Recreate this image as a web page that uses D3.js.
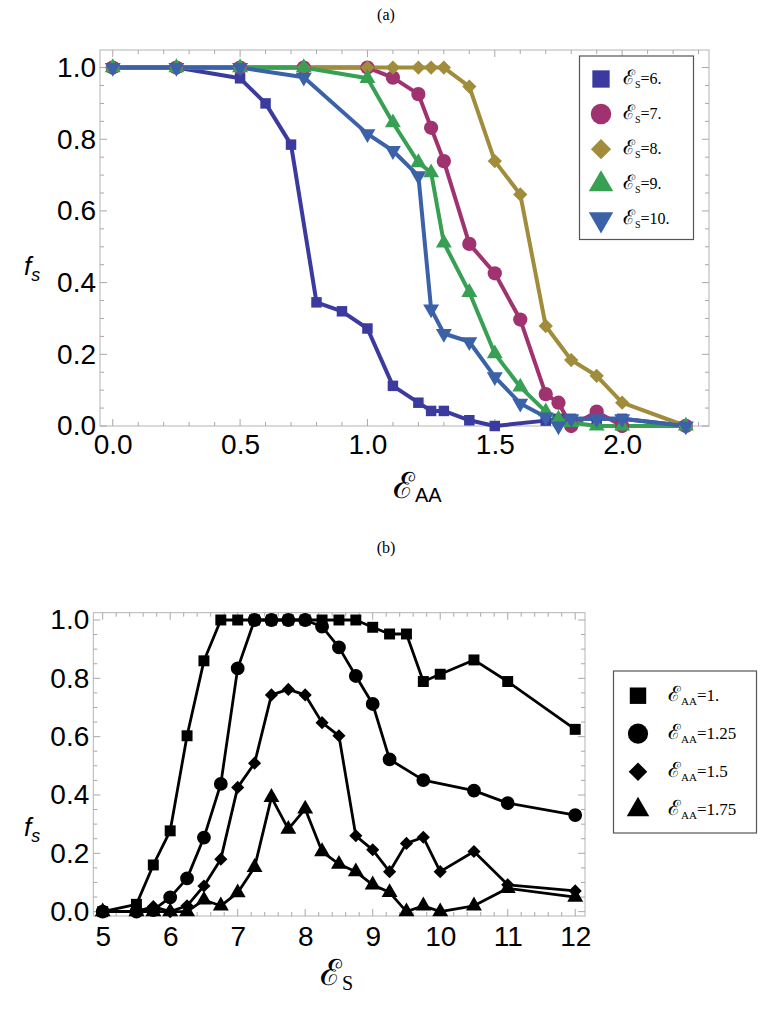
<!DOCTYPE html>
<html><head><meta charset="utf-8">
<script src="https://cdn.jsdelivr.net/npm/d3@7"></script>
<style>
body{margin:0;background:#fff;}
svg{display:block;}
</style></head>
<body>
<svg id="chart" width="773" height="1014"></svg>
<script>
// ---------- Panel (a) data ----------
const aLabels = ["6.", "7.", "8.", "9.", "10."];
const aX6  = [0,0.25,0.5,0.6,0.7,0.8,0.9,1.0,1.1,1.2,1.25,1.3,1.4,1.5,1.7,1.75,1.8,1.9,2.0,2.25];
const aY6  = [1,1,0.97,0.90,0.785,0.345,0.32,0.272,0.112,0.065,0.042,0.042,0.016,0,0.015,0.02,0.02,0.02,0.02,0];
const aX7  = [0,0.25,0.5,0.75,1.0,1.1,1.2,1.25,1.3,1.4,1.5,1.6,1.7,1.75,1.8,1.9,2.0,2.25];
const aY7  = [1,1,1,1,1,0.972,0.926,0.832,0.739,0.508,0.426,0.297,0.089,0.065,0,0.04,0,0];
const aX8  = [0,0.25,0.5,0.75,1.0,1.1,1.2,1.25,1.3,1.4,1.5,1.6,1.7,1.8,1.9,2.0,2.25];
const aY8  = [1,1,1,1,1,1,1,1,1,0.947,0.739,0.646,0.279,0.184,0.14,0.065,0];
const aX9  = [0,0.25,0.5,0.75,1.0,1.1,1.2,1.25,1.3,1.4,1.5,1.6,1.7,1.75,1.8,1.9,2.0,2.25];
const aY9  = [1,1,1,1,0.97,0.846,0.735,0.707,0.511,0.373,0.202,0.109,0.04,0.02,0.01,0,0,0];
const aX10 = [0,0.25,0.5,0.75,1.0,1.1,1.2,1.25,1.3,1.4,1.5,1.6,1.7,1.75,1.8,1.9,2.0,2.25];
const aY10 = [1,1,1,0.973,0.815,0.768,0.698,0.326,0.258,0.235,0.137,0.063,0.025,0,0.02,0.02,0.02,0];
const aXTicks = [0,0.5,1.0,1.5,2.0];
const aYTicks = [0,0.2,0.4,0.6,0.8,1.0];

// ---------- Panel (b) data ----------
const bLabels = ["1.", "1.25", "1.5", "1.75"];
const bX1   = [5,5.5,5.75,6,6.25,6.5,6.75,7,7.25,7.5,7.75,8,8.25,8.5,8.75,9,9.25,9.5,9.75,10,10.5,11,12];
const bY1   = [0,0.025,0.16,0.277,0.603,0.86,1,1,1,1,1,1,1,1,1,0.975,0.952,0.952,0.789,0.814,0.863,0.789,0.625];
const bX125 = [5,5.5,5.75,6,6.25,6.5,6.75,7,7.25,7.5,7.75,8,8.25,8.5,8.75,9,9.25,9.75,10.5,11,12];
const bY125 = [0,0,0.005,0.049,0.114,0.254,0.438,0.834,1,1,1,1,0.977,0.906,0.808,0.712,0.522,0.451,0.415,0.372,0.331];
const bX15  = [5,5.5,5.75,6,6.25,6.5,6.75,7,7.25,7.5,7.75,8,8.25,8.5,8.75,9,9.25,9.5,9.75,10,10.5,11,12];
const bY15  = [0,0,0.017,0,0.02,0.088,0.18,0.426,0.509,0.743,0.762,0.743,0.648,0.603,0.26,0.212,0.137,0.234,0.255,0.137,0.206,0.092,0.071];
const bX175 = [5,5.5,5.75,6,6.25,6.5,6.75,7,7.25,7.5,7.75,8,8.25,8.5,8.75,9,9.25,9.5,9.75,10,10.5,11,12];
const bY175 = [0,0,0,0,0,0.04,0.02,0.065,0.152,0.392,0.283,0.352,0.206,0.163,0.137,0.092,0.066,0,0.02,0,0.02,0.08,0.05];
const bXTicks = [5,6,7,8,9,10,11,12];
const bYTicks = [0,0.2,0.4,0.6,0.8,1.0];

// ---------- styling ----------
const aColors = ["#3b3b9f","#a0336f","#a08c3a","#37a052","#3b62a8"];
const svg = d3.select("#chart");
const SANS = "'Liberation Sans', Arial, sans-serif";
const SERIF = "'Liberation Serif', 'DejaVu Serif', serif";

function sym(kind, size){
  if(kind==="square") return d3.symbol(d3.symbolSquare, size)();
  if(kind==="circle") return d3.symbol(d3.symbolCircle, size)();
  if(kind==="diamond") return d3.symbol(d3.symbolDiamond2, size)();
  return d3.symbol(d3.symbolTriangle, size)();
}
function rot(kind){ return kind==="down" ? " rotate(180)" : ""; }

function frame(g, x, y, xTicks, xMinor, yMinor){
  const [x0,x1] = x.range(), [y0,y1] = y.range();
  g.append("rect").attr("x",x0).attr("y",y1).attr("width",x1-x0).attr("height",y0-y1)
    .attr("fill","none").attr("stroke","#b4b4b4").attr("stroke-width",1);
  const tk = g.append("g").attr("stroke","#a8a8a8").attr("stroke-width",1);
  xMinor.forEach(v=>{
    const L = xTicks.some(t=>Math.abs(t-v)<1e-6) ? 7 : 4;
    tk.append("line").attr("x1",x(v)).attr("x2",x(v)).attr("y1",y0).attr("y2",y0-L);
    tk.append("line").attr("x1",x(v)).attr("x2",x(v)).attr("y1",y1).attr("y2",y1+L);
  });
  yMinor.forEach(v=>{
    const L = (Math.abs(v*5-Math.round(v*5))<1e-6) ? 7 : 4;
    tk.append("line").attr("y1",y(v)).attr("y2",y(v)).attr("x1",x0).attr("x2",x0+L);
    tk.append("line").attr("y1",y(v)).attr("y2",y(v)).attr("x1",x1).attr("x2",x1-L);
  });
}

function panel(opts){
  const g = svg.append("g");
  const x = d3.scaleLinear().domain(opts.xDom).range(opts.xRange);
  const y = d3.scaleLinear().domain(opts.yDom).range(opts.yRange);
  frame(g, x, y, opts.xTicks, opts.xMinor, opts.yMinor);
  const xAxis = d3.axisBottom(x).tickValues(opts.xTicks).tickFormat(opts.fmtX).tickSize(0).tickPadding(opts.xPad);
  const gx = g.append("g").attr("transform",`translate(0,${opts.yRange[0]})`).call(xAxis);
  gx.select(".domain").remove();
  gx.selectAll("text").attr("font-family",SANS).attr("font-size",28).attr("fill","#000");
  const yAxis = d3.axisLeft(y).tickValues(opts.yTicks).tickFormat(d3.format(".1f")).tickSize(0).tickPadding(opts.yPad);
  const gy = g.append("g").attr("transform",`translate(${opts.xRange[0]},0)`).call(yAxis);
  gy.select(".domain").remove();
  gy.selectAll("text").attr("font-family",SANS).attr("font-size",28).attr("fill","#000");

  const line = d3.line().x(d=>x(d[0])).y(d=>y(d[1]));
  opts.series.forEach(s=>{
    const pts = s.xs.map((v,i)=>[v,s.ys[i]]);
    g.append("path").attr("d",line(pts)).attr("fill","none")
      .attr("stroke",s.color).attr("stroke-width",opts.lw).attr("stroke-linejoin","round");
  });
  opts.series.forEach(s=>{
    const pts = s.xs.map((v,i)=>[v,s.ys[i]]);
    g.append("g").selectAll("path").data(pts).join("path")
      .attr("d",sym(s.kind,s.size))
      .attr("transform",d=>`translate(${x(d[0])},${y(d[1])})${rot(s.kind)}`)
      .attr("fill",s.color);
  });
}

// ---------- Panel (a) ----------
const kinds = ["square","circle","diamond","up","down"];
const aSizes = [110,160,130,110,110];
const aXs = [aX6,aX7,aX8,aX9,aX10], aYs = [aY6,aY7,aY8,aY9,aY10];
panel({
  xDom:[-0.05,2.341], xRange:[100,709], yDom:[0,1.049], yRange:[426,50],
  xTicks:aXTicks, yTicks:aYTicks,
  xMinor:d3.range(0,2.35,0.1).map(v=>+v.toFixed(2)),
  yMinor:d3.range(0,1.04,0.05).map(v=>+v.toFixed(2)),
  fmtX:d3.format(".1f"), xPad:8, yPad:4, lw:4,
  series:aXs.map((xs,i)=>({xs,ys:aYs[i],color:aColors[i],kind:kinds[i],size:aSizes[i]}))
});

// ---------- Panel (b) ----------
const bKinds = ["square","circle","diamond","up"];
const bSizes = [120,150,110,110];
const bXs = [bX1,bX125,bX15,bX175], bYs = [bY1,bY125,bY15,bY175];
panel({
  xDom:[4.861,12.145], xRange:[93.3,585], yDom:[-0.015,1.025], yRange:[916,612.7],
  xTicks:bXTicks, yTicks:bYTicks,
  xMinor:d3.range(5,12.01,0.2).map(v=>+v.toFixed(2)),
  yMinor:d3.range(0,1.02,0.05).map(v=>+v.toFixed(2)),
  fmtX:d3.format("d"), xPad:10, yPad:4, lw:2.8,
  series:bXs.map((xs,i)=>({xs,ys:bYs[i],color:"#000",kind:bKinds[i],size:bSizes[i]}))
});

// ---------- Legends ----------
svg.append("rect").attr("x",579.5).attr("y",56).attr("width",114).attr("height",183.5)
  .attr("fill","#fff").attr("stroke","#555").attr("stroke-width",1.2);
const lgA = svg.append("g");
aLabels.forEach((lab,i)=>{
  const cy = 79 + i*35.1;
  lgA.append("path").attr("d",sym(kinds[i],[300,330,260,260,260][i]))
    .attr("transform",`translate(601,${cy})${rot(kinds[i])}`).attr("fill",aColors[i]);
  const t = lgA.append("text").attr("x",623).attr("y",cy+5).attr("font-family",SERIF).attr("font-size",16);
  t.append("tspan").attr("font-size",20).text("ℰ");
  t.append("tspan").attr("font-size",10).attr("dy",4).text("S");
  t.append("tspan").attr("dy",-4).text("=" + lab);
});
svg.append("rect").attr("x",613.5).attr("y",671).attr("width",143).attr("height",162)
  .attr("fill","#fff").attr("stroke","#555").attr("stroke-width",1.2);
const lgB = svg.append("g");
bLabels.forEach((lab,i)=>{
  const cy = 695.7 + i*38;
  lgB.append("path").attr("d",sym(bKinds[i],[270,320,220,220][i]))
    .attr("transform",`translate(638,${cy})${rot(bKinds[i])}`).attr("fill","#000");
  const t = lgB.append("text").attr("x",668).attr("y",cy+5).attr("font-family",SERIF).attr("font-size",17);
  t.append("tspan").attr("font-size",21).text("ℰ");
  t.append("tspan").attr("font-size",11).attr("dy",4).text("AA");
  t.append("tspan").attr("dy",-4).text("=" + lab);
});

// ---------- Titles and axis labels ----------
svg.append("text").attr("x",386).attr("y",20).attr("text-anchor","middle")
  .attr("font-family",SERIF).attr("font-size",16).text("(a)");
svg.append("text").attr("x",386).attr("y",553).attr("text-anchor","middle")
  .attr("font-family",SERIF).attr("font-size",16).text("(b)");

function fs(xp,yp){
  const t = svg.append("text").attr("x",xp).attr("y",yp).attr("font-family",SANS)
    .attr("font-style","italic").attr("font-size",26);
  t.append("tspan").text("f");
  t.append("tspan").attr("font-size",18).attr("dy",6).text("s");
}
fs(24,275);
fs(24,836);

const xa = svg.append("text").attr("x",393).attr("y",498).attr("font-family",SERIF).attr("font-size",36);
xa.append("tspan").text("ℰ");
xa.append("tspan").attr("font-family",SANS).attr("font-size",20).attr("dy",4).text("AA");
const xb = svg.append("text").attr("x",320).attr("y",985).attr("font-family",SERIF).attr("font-size",36);
xb.append("tspan").text("ℰ");
xb.append("tspan").attr("font-size",20).attr("dy",5).text("S");
</script>
</body></html>
